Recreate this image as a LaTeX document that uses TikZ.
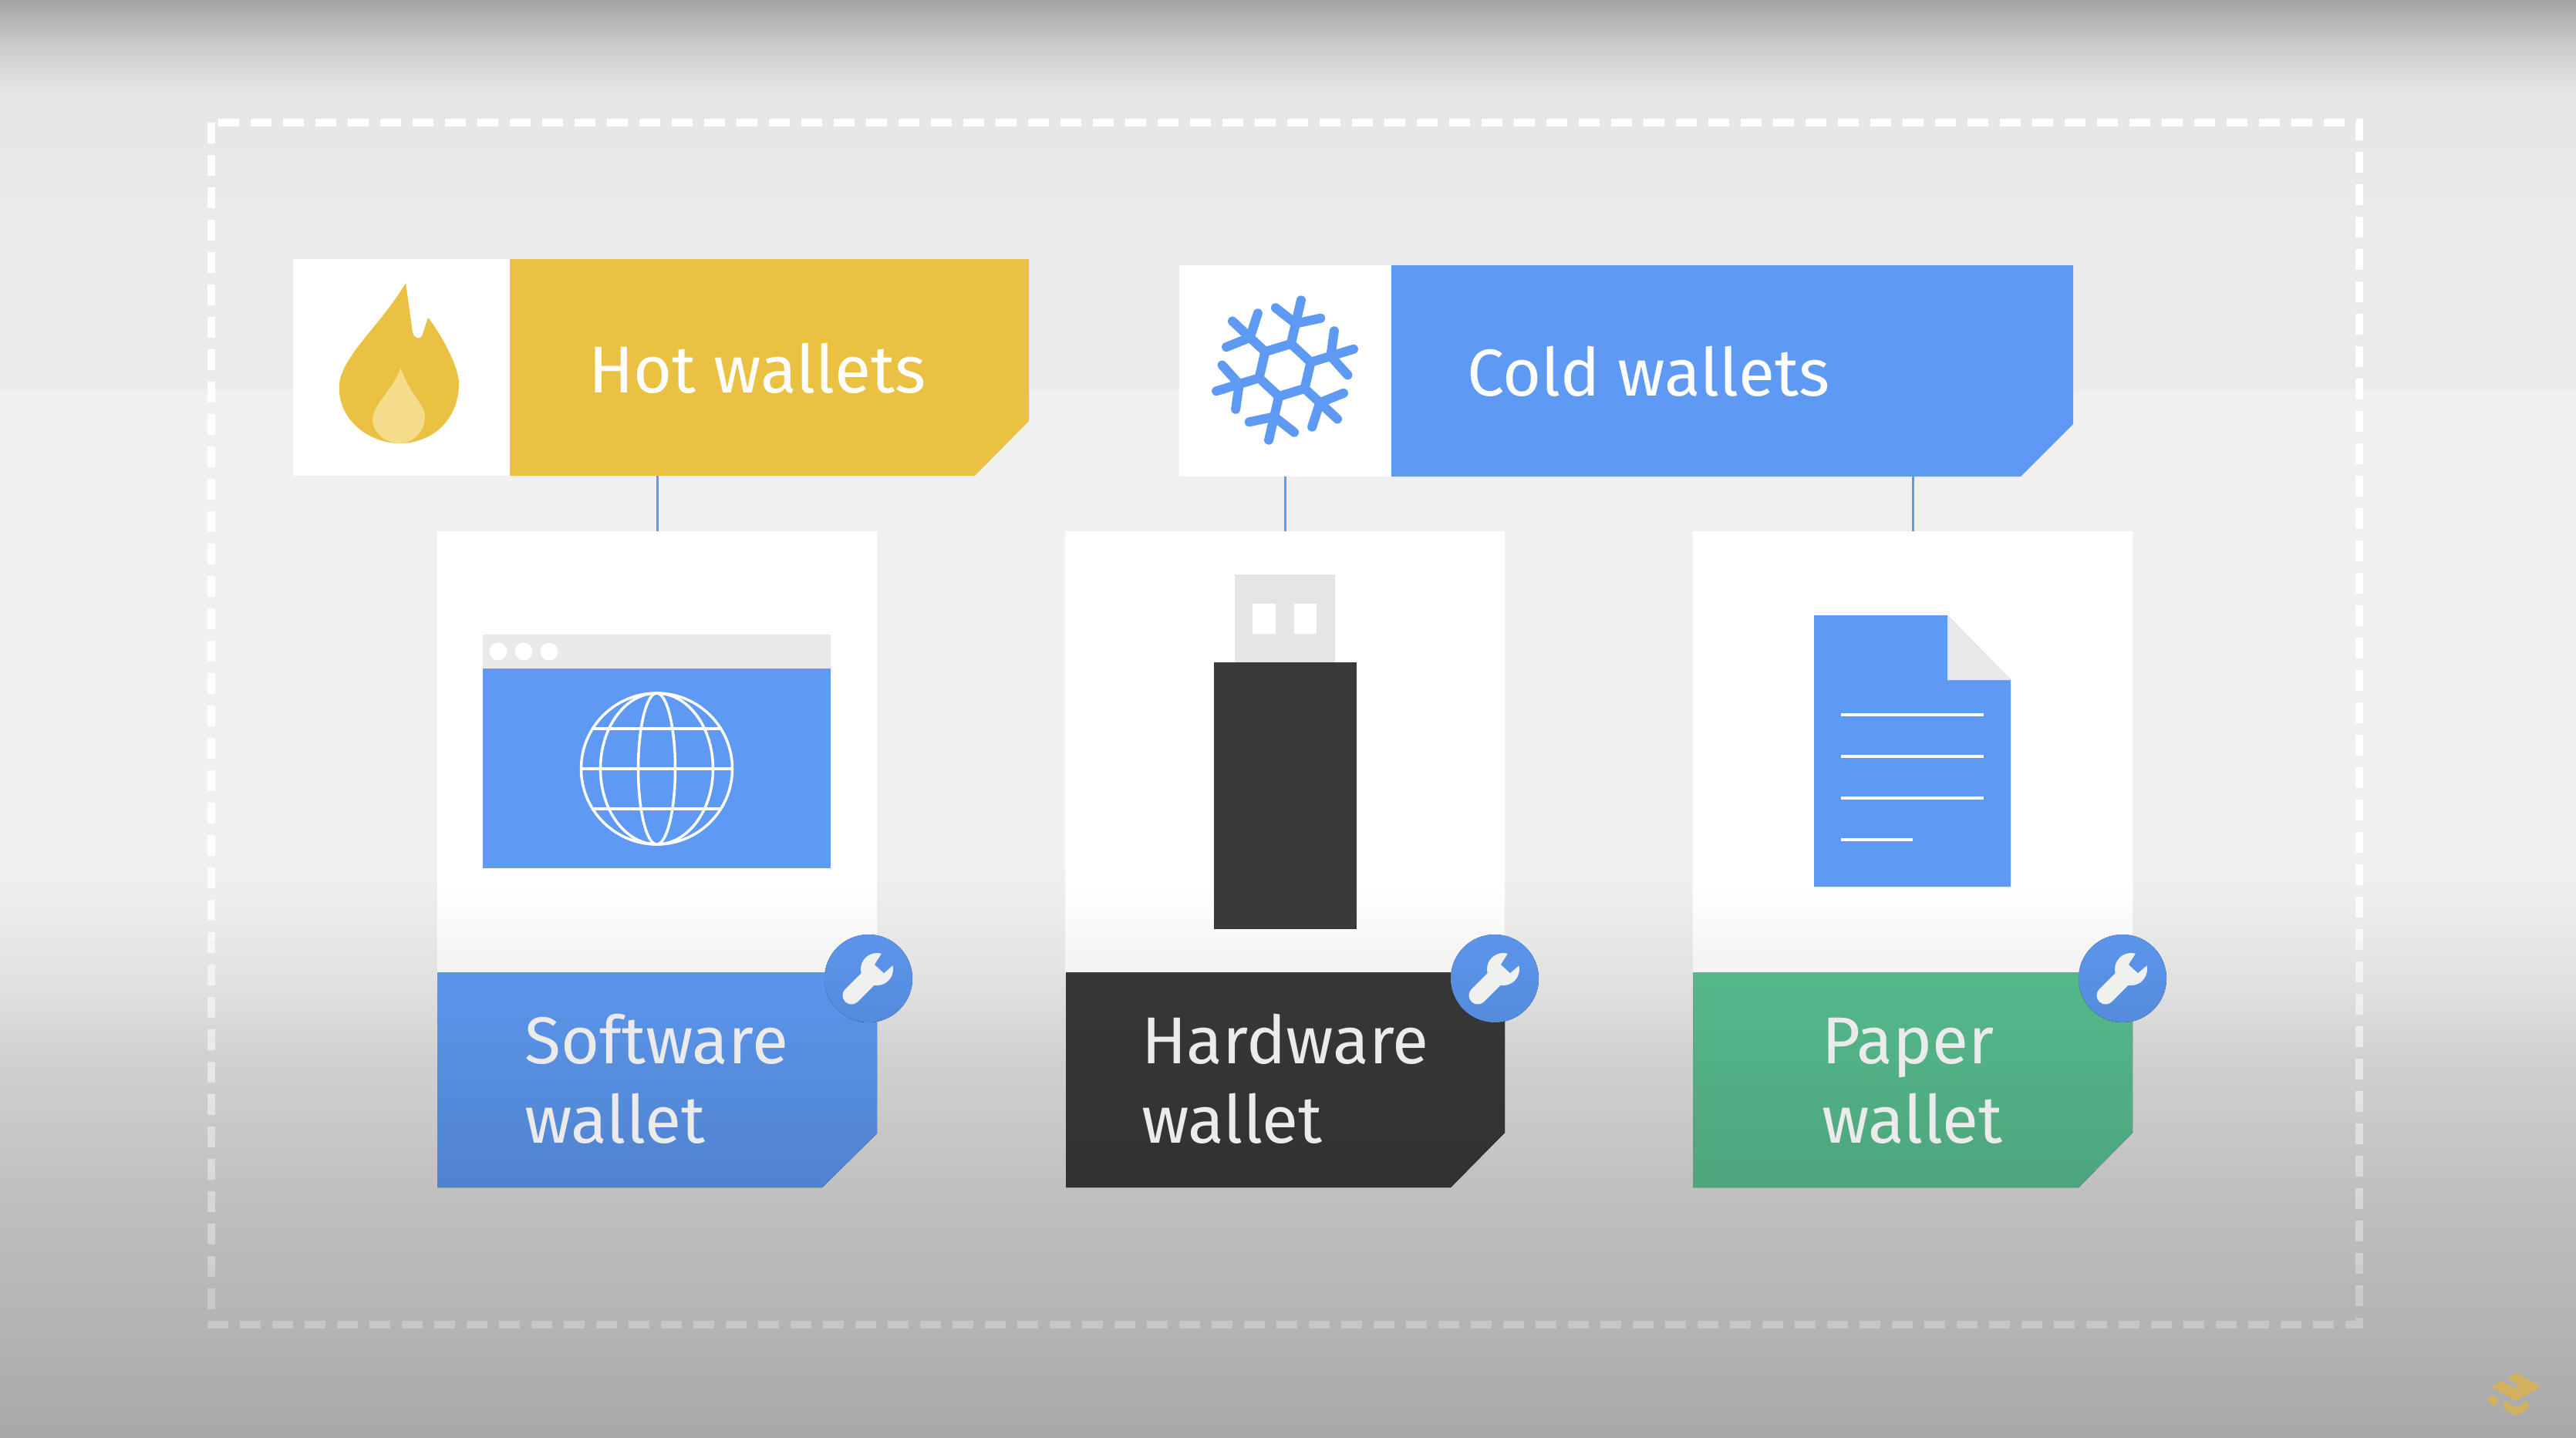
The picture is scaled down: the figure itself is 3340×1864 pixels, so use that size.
\documentclass[tikz,border=0pt]{standalone}
\usepackage{fontspec}
\setmainfont{Fira Sans}
\usepackage{tikz}
\definecolor{cblue}{HTML}{5E9AF3}
\definecolor{cyellow}{HTML}{EAC142}
\definecolor{cflame}{HTML}{F5DC8A}
\definecolor{clight}{HTML}{E9E9E9}
\definecolor{cdark}{HTML}{3A3A3A}
\definecolor{clogo}{HTML}{D4B15E}
\definecolor{cgreentop}{HTML}{54B98A}
\definecolor{cgreenbot}{HTML}{4EA57D}
\pgfdeclareverticalshading{bgshade}{100bp}{
 color(0bp)=(black!34!white);
 color(25bp)=(black!34!white);
 color(29.4bp)=(black!29!white);
 color(33.4bp)=(black!25!white);
 color(38.3bp)=(black!18!white);
 color(40.7bp)=(black!12!white);
 color(43.1bp)=(black!8!white);
 color(44.7bp)=(black!6!white);
 color(61.4bp)=(black!6!white);
 color(61.5bp)=(black!8!white);
 color(67bp)=(black!8!white);
 color(71.8bp)=(black!10!white);
 color(73.4bp)=(black!20!white);
 color(75bp)=(black!36!white);
 color(100bp)=(black!36!white)}
\tikzset{
 box/.style={inner sep=0pt,outer sep=0pt,minimum width=#1},
 wire/.style={draw=cblue,line width=3pt},
 headtext/.style={text=white,inner sep=0pt,anchor=base west,font=\fontsize{86}{100}\selectfont},
 labeltext/.style={text=black!8!white,inner sep=0pt,anchor=south west,align=left,text depth=0pt,font=\fontsize{86}{103}\selectfont},
 snow/.style={draw=cblue,line width=12pt,line cap=round,line join=round},
 dashframe/.style={line width=9.5pt,dash pattern=on 27pt off 15pt},
 globeline/.style={draw=white,line width=3.5pt},
 docline/.style={draw=white,line width=4pt},
}
\newcommand{\wrenchbadge}[1]{%
 \begin{scope}[shift={(#1,0)}]
  \fill[top color=cblue!97!black,bottom color=cblue!90!black] (274,1269) circle[radius=57];
  \draw[draw=black!6!white,line width=23pt,line cap=round] (252,1291) -- (280,1263);
  \fill[black!6!white] (285,1257) circle[radius=21];
  \fill[cblue!95!black] (282,1251) -- (294,1262) -- (316,1243) -- (298,1226) -- cycle;
 \end{scope}}
\begin{document}
\begin{tikzpicture}[x=1pt,y=-1pt]
\useasboundingbox (0,0) rectangle (3340,1864);
\path[shading=bgshade] (0,0) rectangle (3340,1864);

% dashed frame (darkening downwards)
\draw[white,dashframe] (274,159) rectangle (3059,1718);
\foreach \yy in {1130,1160,...,1730}{
 \pgfmathsetmacro{\kk}{(\yy+15-1130)*22/590}
 \begin{scope}
  \clip (200,\yy) rectangle (3140,\yy+30);
  \draw[draw=black!\kk!white,dashframe] (274,159) rectangle (3059,1718);
 \end{scope}}

% group headers
\node[box=954pt,minimum height=281pt] (hotbox) at (857,476.5) {};
\node[box=1159pt,minimum height=274pt] (coldbox) at (2108.5,481) {};
\fill[white] (380,336) rectangle (661,617);
\fill[cyellow] (661,336) -- (1334,336) -- (1334,546) -- (1264,617) -- (661,617) -- cycle;
\fill[white] (1529,344) rectangle (1804,618);
\fill[cblue] (1804,344) -- (2688,344) -- (2688,550) -- (2620,618) -- (1804,618) -- cycle;

% flame
\fill[cyellow] (526,367) .. controls (495,420) and (445,460) .. (440,497)
  .. controls (436,545) and (480,575) .. (518,575)
  .. controls (560,575) and (595,545) .. (595,497)
  .. controls (595,475) and (570,430) .. (555,412)
  -- (547,436) .. controls (545,440) and (537,440) .. (535,431) -- cycle;
\fill[cflame] (519.5,477) .. controls (510,505) and (483,525) .. (483,545)
  .. controls (483,560) and (500,575) .. (518,575)
  .. controls (535,575) and (551,560) .. (551,540)
  .. controls (551,525) and (530,510) .. (519.5,477) -- cycle;

% snowflake
\foreach \a in {17,77,137,197,257,317}{
 \pgfmathsetmacro{\b}{\a+60}
 \draw[snow] ({1666+35*cos(\a)},{480-35*sin(\a)}) -- ({1666+35*cos(\b)},{480-35*sin(\b)});
 \draw[snow] ({1666+35*cos(\a)},{480-35*sin(\a)}) -- ({1666+93*cos(\a)},{480-93*sin(\a)});
 \draw[snow] ({1666+62*cos(\a)},{480-62*sin(\a)}) -- ({1666+62*cos(\a)+33*cos(\a+65)},{480-62*sin(\a)-33*sin(\a+65)});
 \draw[snow] ({1666+62*cos(\a)},{480-62*sin(\a)}) -- ({1666+62*cos(\a)+33*cos(\a-65)},{480-62*sin(\a)-33*sin(\a-65)});
}

\node[headtext] (hottext) at (763,509) {Hot wallets};
\node[headtext] (coldtext) at (1902,513) {Cold wallets};

% cards
\node[box=570pt,minimum height=572pt,fill=white] (card1) at (852,975) {};
\node[box=570pt,minimum height=572pt,fill=white] (card2) at (1666,975) {};
\node[box=570pt,minimum height=572pt,fill=white] (card3) at (2480,975) {};
\foreach \cx in {852,1666,2480}{
 \path[top color=white,bottom color=black!5!white] (\cx-285,1150) rectangle (\cx+285,1262);
}
\draw[wire] (card1.north) -- (card1.north |- hotbox.south);
\draw[wire] (card2.north) -- (card2.north |- coldbox.south);
\draw[wire] (card3.north) -- (card3.north |- coldbox.south);

% browser
\fill[clight] (626,823) rectangle (1077,867);
\fill[cblue] (626,867) rectangle (1077,1126);
\foreach \dx in {646,679,712}{\fill[white] (\dx,845) circle[radius=11.5];}
\draw[globeline] (851.5,997) circle[radius=98];
\draw[globeline] (851.5,997) ellipse[x radius=24,y radius=98];
\draw[globeline] (851.5,997) ellipse[x radius=73,y radius=98];
\draw[globeline] (753.5,997) -- (949.5,997);
\draw[globeline] (767,945) -- (936,945);
\draw[globeline] (767,1049) -- (936,1049);

% usb stick
\fill[black!10!white] (1601,745) rectangle (1730.5,860);
\fill[white] (1624,783) rectangle (1654,822);
\fill[white] (1678,783) rectangle (1707,822);
\fill[cdark] (1573.5,859) rectangle (1758.5,1204.5);

% paper
\fill[cblue] (2352,798) -- (2525,798) -- (2607,882) -- (2607,1150) -- (2352,1150) -- cycle;
\fill[clight] (2525,798) -- (2607,882) -- (2525,882) -- cycle;
\draw[docline] (2387,927) -- (2572,927);
\draw[docline] (2387,981) -- (2572,981);
\draw[docline] (2387,1035) -- (2572,1035);
\draw[docline] (2387,1089) -- (2480,1089);

% labels
\fill[top color=cblue!97!black,bottom color=cblue!85!black] (567,1261) -- (1137,1261) -- (1137,1470) -- (1066,1540) -- (567,1540) -- cycle;
\fill[top color=cdark!95!black,bottom color=cdark!85!black] (1382,1261) -- (1951,1261) -- (1951,1469) -- (1881,1540) -- (1382,1540) -- cycle;
\fill[top color=cgreentop,bottom color=cgreenbot] (2195,1261) -- (2765,1261) -- (2765,1469) -- (2695,1540) -- (2195,1540) -- cycle;

\node[labeltext] (soft) at (680,1483) {Software\\wallet};
\node[labeltext] (hard) at (1480,1483) {Hardware\\wallet};
\node[labeltext] (paper) at (2362,1483) {Paper\\wallet};

\wrenchbadge{852}
\wrenchbadge{1664}
\wrenchbadge{2478}

% logo
\begin{scope}[shift={(3180,1740)},x=0.3333pt,y=-0.3333pt]
\fill[clogo] (152,175) -- (190,153) -- (243,183) -- (262,172) -- (213,143) -- (245,121) -- (342,175) -- (247,231) -- cycle;
\fill[clogo] (200,230) -- (247,257) -- (294,230) -- (294,262) -- (247,287) -- (200,262) -- cycle;
\fill[clogo] (155,207) -- (181,230) -- (158,251) -- (136,228) -- cycle;
\end{scope}
\end{tikzpicture}
\end{document}
